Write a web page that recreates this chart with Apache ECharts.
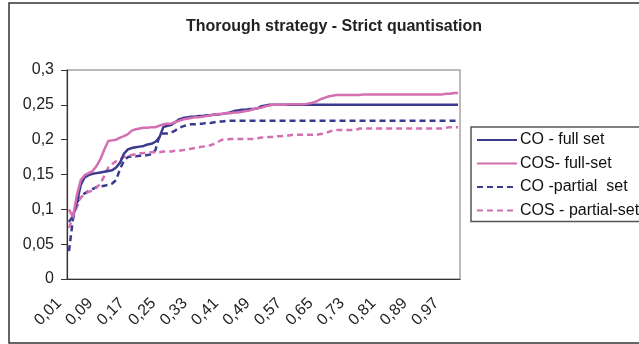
<!DOCTYPE html>
<html>
<head>
<meta charset="utf-8">
<script src="https://cdn.jsdelivr.net/npm/echarts@6/dist/echarts.min.js"></script>
<style>
  html, body { margin: 0; padding: 0; background: #fff; }
  #chart { width: 639px; height: 344px; }
</style>
</head>
<body>
<div id="chart"></div>
<script>
// Threshold values 0,01 ... 1,00
const categories = [
  '0,01','0,02','0,03','0,04','0,05','0,06','0,07','0,08','0,09','0,10',
  '0,11','0,12','0,13','0,14','0,15','0,16','0,17','0,18','0,19','0,20',
  '0,21','0,22','0,23','0,24','0,25','0,26','0,27','0,28','0,29','0,30',
  '0,31','0,32','0,33','0,34','0,35','0,36','0,37','0,38','0,39','0,40',
  '0,41','0,42','0,43','0,44','0,45','0,46','0,47','0,48','0,49','0,50',
  '0,51','0,52','0,53','0,54','0,55','0,56','0,57','0,58','0,59','0,60',
  '0,61','0,62','0,63','0,64','0,65','0,66','0,67','0,68','0,69','0,70',
  '0,71','0,72','0,73','0,74','0,75','0,76','0,77','0,78','0,79','0,80',
  '0,81','0,82','0,83','0,84','0,85','0,86','0,87','0,88','0,89','0,90',
  '0,91','0,92','0,93','0,94','0,95','0,96','0,97','0,98','0,99','1,00'
];

const coFull = [
  0.082,0.090,0.110,0.135,0.146,0.149,0.151,0.152,0.153,0.154,
  0.155,0.156,0.160,0.167,0.180,0.186,0.188,0.189,0.190,0.191,
  0.193,0.194,0.197,0.203,0.218,0.220,0.221,0.225,0.229,0.231,
  0.232,0.233,0.233,0.234,0.234,0.235,0.235,0.236,0.236,0.237,
  0.238,0.239,0.241,0.242,0.243,0.243,0.244,0.244,0.245,0.248,
  0.249,0.250,0.250,0.250,0.250,0.250,0.250,0.250,0.250,0.250,
  0.250,0.250,0.250,0.250,0.250,0.250,0.250,0.250,0.250,0.250,
  0.250,0.250,0.250,0.250,0.250,0.250,0.250,0.250,0.250,0.250,
  0.250,0.250,0.250,0.250,0.250,0.250,0.250,0.250,0.250,0.250,
  0.250,0.250,0.250,0.250,0.250,0.250,0.250,0.250,0.250,0.250
];

const cosFull = [
  0.100,0.089,0.120,0.142,0.149,0.152,0.155,0.162,0.172,0.186,
  0.198,0.199,0.200,0.203,0.205,0.208,0.213,0.215,0.216,0.217,
  0.217,0.218,0.218,0.220,0.222,0.223,0.223,0.225,0.227,0.229,
  0.230,0.231,0.232,0.232,0.233,0.234,0.235,0.236,0.237,0.237,
  0.238,0.238,0.239,0.239,0.240,0.241,0.242,0.244,0.245,0.246,
  0.248,0.249,0.250,0.250,0.250,0.250,0.251,0.251,0.251,0.251,
  0.251,0.252,0.253,0.255,0.258,0.260,0.262,0.263,0.264,0.264,
  0.264,0.264,0.264,0.264,0.264,0.265,0.265,0.265,0.265,0.265,
  0.265,0.265,0.265,0.265,0.265,0.265,0.265,0.265,0.265,0.265,
  0.265,0.265,0.265,0.265,0.265,0.265,0.266,0.266,0.267,0.267
];

const coPartial = [
  0.040,0.085,0.110,0.118,0.123,0.126,0.129,0.132,0.133,0.134,
  0.135,0.137,0.142,0.158,0.170,0.175,0.176,0.176,0.177,0.177,
  0.178,0.179,0.185,0.205,0.209,0.209,0.210,0.213,0.217,0.219,
  0.221,0.222,0.222,0.223,0.223,0.224,0.224,0.225,0.226,0.226,
  0.227,0.227,0.227,0.227,0.227,0.227,0.227,0.227,0.227,0.227,
  0.227,0.227,0.227,0.227,0.227,0.227,0.227,0.227,0.227,0.227,
  0.227,0.227,0.227,0.227,0.227,0.227,0.227,0.227,0.227,0.227,
  0.227,0.227,0.227,0.227,0.227,0.227,0.227,0.227,0.227,0.227,
  0.227,0.227,0.227,0.227,0.227,0.227,0.227,0.227,0.227,0.227,
  0.227,0.227,0.227,0.227,0.227,0.227,0.227,0.227,0.227,0.227
];

const cosPartial = [
  0.073,0.089,0.103,0.117,0.122,0.125,0.127,0.131,0.137,0.148,
  0.160,0.165,0.169,0.172,0.175,0.177,0.178,0.179,0.180,0.181,
  0.181,0.182,0.182,0.182,0.183,0.183,0.183,0.184,0.184,0.185,
  0.186,0.187,0.188,0.189,0.190,0.191,0.192,0.194,0.197,0.200,
  0.200,0.201,0.201,0.201,0.201,0.201,0.201,0.201,0.202,0.203,
  0.203,0.204,0.204,0.205,0.205,0.206,0.206,0.207,0.207,0.207,
  0.207,0.207,0.207,0.207,0.208,0.209,0.211,0.213,0.214,0.214,
  0.214,0.214,0.214,0.214,0.216,0.216,0.216,0.216,0.216,0.216,
  0.216,0.216,0.216,0.216,0.216,0.216,0.216,0.216,0.216,0.216,
  0.216,0.216,0.216,0.216,0.216,0.216,0.217,0.218,0.218,0.218
];

const yTicks = [0, 0.05, 0.1, 0.15, 0.2, 0.25, 0.3];
const yTickLabels = ['0', '0,05', '0,1', '0,15', '0,2', '0,25', '0,3'];

const seriesNames = ['CO - full set', 'COS- full-set', 'CO -partial  set', 'COS - partial-set'];

const NAVY = '#3a3a8e';
const PINK = '#d46fb2';
const FONT = 'Liberation Sans, Arial, sans-serif';

const chart = echarts.init(document.getElementById('chart'), null, { renderer: 'canvas' });

function yLabel(v) {
  const i = yTicks.findIndex(t => Math.abs(t - v) < 1e-9);
  return i >= 0 ? yTickLabels[i] : '';
}

function lineSeries(name, data, color, dashed) {
  return {
    name: name,
    type: 'line',
    data: data,
    symbol: 'none',
    smooth: false,
    lineStyle: { color: color, width: 2.5, type: dashed ? [6, 4] : 'solid' },
    itemStyle: { color: color },
    emphasis: { disabled: true },
    z: dashed ? 2 : 3
  };
}

chart.setOption({
  animation: false,
  backgroundColor: '#ffffff',
  title: {
    text: 'Thorough strategy - Strict quantisation',
    left: 329,
    textAlign: 'center',
    top: 14,
    textStyle: { fontFamily: FONT, fontSize: 16, fontWeight: 'bold', color: '#222' }
  },
  graphic: [{
    type: 'rect',
    shape: { x: 9, y: 3, width: 700, height: 340 },
    style: { fill: 'none', stroke: '#333', lineWidth: 1.5 },
    silent: true,
    z: -1
  }],
  grid: {
    left: 67, top: 70, width: 393, height: 209,
    show: true, borderColor: '#aaa2a2', borderWidth: 1.5, backgroundColor: 'transparent'
  },
  legend: {
    orient: 'vertical',
    left: 471, top: 127,
    padding: [4, 40, 2, 5],
    itemGap: 5.5,
    itemWidth: 40,
    itemHeight: 14,
    backgroundColor: '#fff',
    borderColor: '#555',
    borderWidth: 1.5,
    borderRadius: 0,
    itemStyle: { opacity: 0 },
    textStyle: { fontFamily: FONT, fontSize: 16, color: '#111', lineHeight: 18, padding: [0, 0, 0, -2] },
    data: seriesNames
  },
  xAxis: {
    type: 'category',
    data: categories,
    boundaryGap: true,
    axisLine: { lineStyle: { color: '#333', width: 1.2 } },
    axisTick: { interval: 0, length: 5, lineStyle: { color: '#333' } },
    axisLabel: {
      interval: 7,
      rotate: 45,
      margin: 12,
      padding: [0, 14, 0, 0],
      fontFamily: FONT,
      fontSize: 16,
      color: '#222'
    },
    splitLine: { show: false }
  },
  yAxis: {
    type: 'value',
    min: 0, max: 0.3, interval: 0.05,
    axisLine: { show: true, lineStyle: { color: '#333', width: 1.2 } },
    axisTick: { show: true, length: 6, lineStyle: { color: '#333' } },
    axisLabel: { formatter: yLabel, fontFamily: FONT, fontSize: 16, color: '#222', margin: 13 },
    splitLine: { show: false }
  },
  series: [
    lineSeries(seriesNames[0], coFull, NAVY, false),
    lineSeries(seriesNames[1], cosFull, PINK, false),
    lineSeries(seriesNames[2], coPartial, NAVY, true),
    lineSeries(seriesNames[3], cosPartial, PINK, true)
  ]
});
</script>
</body>
</html>
